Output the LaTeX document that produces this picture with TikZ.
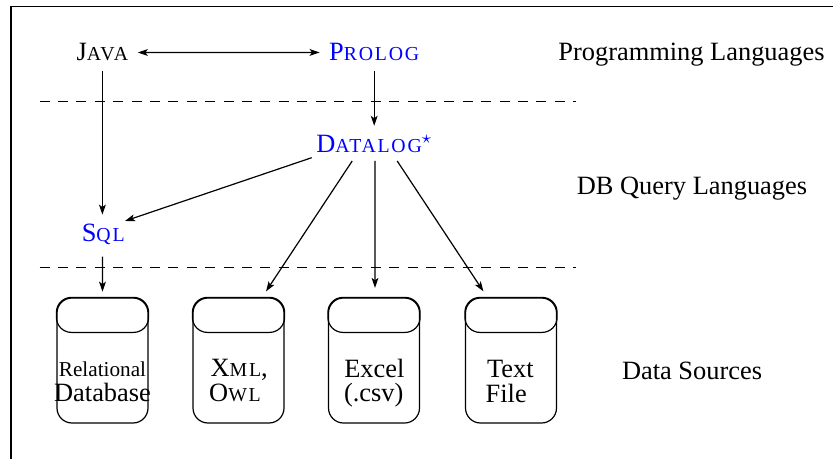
\documentclass[tikz,border=0pt]{standalone}
\usepackage{fontspec}
\setmainfont{Liberation Serif}
\usetikzlibrary{arrows.meta,calc}
\newcommand\mainsz{\fontsize{13.2}{15.8}\selectfont}
\newcommand\relsz{\fontsize{10.6}{12.7}\selectfont}
\newcommand\mysc[1]{{\fontsize{9.9}{11}\selectfont\addfontfeature{LetterSpace=9}#1}}
\begin{document}
\begin{tikzpicture}[x=0.5pt,y=-0.5pt, line width=0.6pt,
  every node/.style={font=\mainsz},
  lang/.style={inner sep=4.5pt, anchor=base},
  plain/.style={inner sep=0pt, anchor=base},
  cyl/.style={draw, rounded corners=7.5pt, minimum width=45.5pt, minimum height=62.5pt, inner sep=0pt},
  tip/.tip={Stealth[length=5pt,width=3.4pt,inset=1.2pt]},
  arr/.style={-tip},
  sep/.style={dash pattern=on 5pt off 4.2pt, line width=0.5pt}]
\useasboundingbox (0,0) rectangle (833,459);
% frame
\coordinate (fa) at (11,459);
\coordinate (fb) at (11,6.5);
\coordinate (fc) at (833,6.5);
\draw[line width=0.7pt] (fa) -- (fb) -- (fc);
% language nodes
\node[lang] (java) at (102.4,61) {J\mysc{AVA}};
\node[lang,blue] (prolog) at (374.2,61) {P\mysc{ROLOG}};
\node[lang,blue] (datalog) at (374.2,152.7) {D\mysc{ATALOG}$^\star$};
\node[lang,blue] (sql) at (103.2,241.7) {S\mysc{QL}};
% layer labels
\node[plain] (pl) at (691.5,61) {Programming Languages};
\node[plain] (dbq) at (692,195) {DB Query Languages};
\node[plain] (ds) at (692,379) {Data Sources};
% separators
\coordinate (d1a) at (39.5,101.7);
\coordinate (d1b) at (576,101.7);
\coordinate (d2a) at (39.5,267.3);
\coordinate (d2b) at (576,267.3);
\draw[sep] (d1a) -- (d1b);
\draw[sep] (d2a) -- (d2b);
% cylinders
\node[cyl] (c1) at (102.5,360.5) {};
\node[cyl] (c2) at (238.5,360.5) {};
\node[cyl] (c3) at (374,360.5) {};
\node[cyl] (c4) at (511,360.5) {};
\foreach \c in {c1,c2,c3,c4}
  \draw[rounded corners=7.5pt] (\c.north west) rectangle ($(\c.north east)+(0,35)$);
% cylinder texts
\node[plain,font=\relsz] (r1) at (102.5,376.7) {Relational};
\node[plain] (r2) at (102.5,401.7) {Database};
\node[plain] (x1) at (239.2,376.7) {X\mysc{ML},};
\node[plain] (x2) at (235,401) {O\mysc{WL}};
\node[plain] (e1) at (374.3,377) {Excel};
\node[plain] (e2) at (373.7,401) {(.csv)};
\node[plain] (f1) at (510.3,377.3) {Text};
\node[plain] (f2) at (506.2,402.7) {File};
% connectors
\draw[tip-tip] (java.east) -- (prolog.west);
\draw[arr] (java.south) -- (java.south |- sql.north);
\draw[arr] (prolog.south) -- (prolog.south |- datalog.north);
\draw[arr] ($(datalog.base)+(-62.5,5)$) -- ($(sql.base)+(21.8,-20.7)$);
\draw[arr] ($(sql.base)+(-0.8,15)$) -- ($(c1.north)+(0,-5.7)$);
\draw[arr] ($(datalog.base)+(-22,8.3)$) -- ($(c2.north)+(27.5,-6)$);
\draw[arr] ($(datalog.base)+(0.8,8.3)$) -- ($(c3.north)+(1,-9.5)$);
\draw[arr] ($(datalog.base)+(23,8.3)$) -- ($(c4.north)+(-27.6,-6)$);
\end{tikzpicture}
\end{document}
